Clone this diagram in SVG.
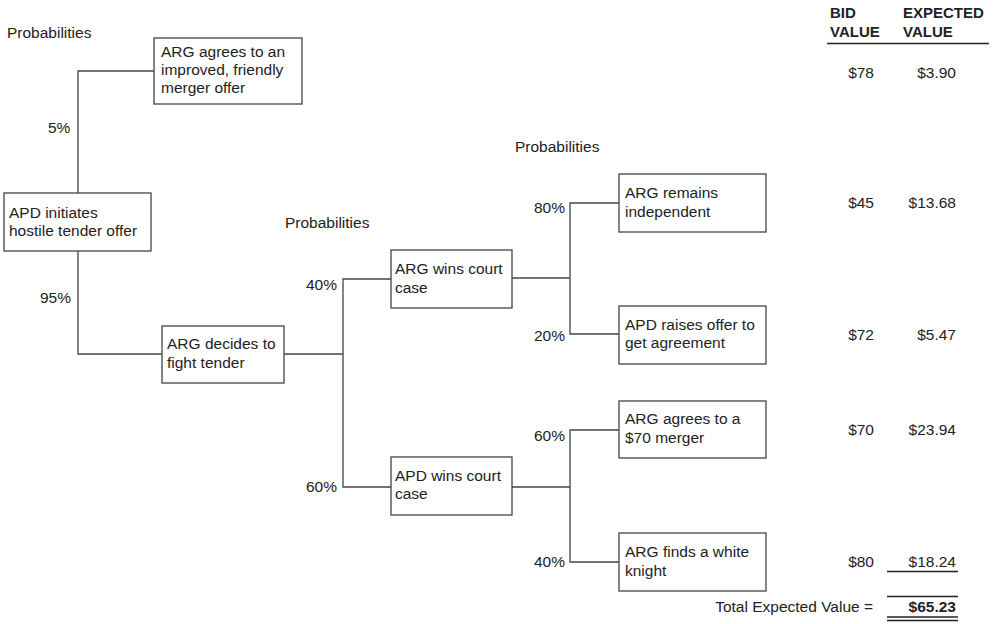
<svg xmlns="http://www.w3.org/2000/svg" width="997" height="624" viewBox="0 0 997 624">
  <style>
    text { font-family: "Liberation Sans", Arial, sans-serif; font-size: 15.5px; fill: #222; }
    .box { fill: #fff; stroke: #444; stroke-width: 1.3; }
    .wire { fill: none; stroke: #444; stroke-width: 1.3; }
    .rule { stroke: #222; stroke-width: 1.3; }
    .hdr { font-weight: bold; font-size: 15px; }
    .num { text-anchor: end; }
    .bold { font-weight: bold; }
  </style>
  <rect width="997" height="624" fill="#fff"/>

  <!-- probability labels above each chance column -->
  <text x="7" y="38">Probabilities</text>
  <text x="285" y="228">Probabilities</text>
  <text x="515" y="152">Probabilities</text>

  <!-- branch lines -->
  <g id="connectors">
    <polyline class="wire" points="154,71 78,71 78,193"/>
    <polyline class="wire" points="78,251 78,354 162,354"/>
    <polyline class="wire" points="284,354 343,354"/>
    <polyline class="wire" points="391,279 343,279 343,487 391,487"/>
    <polyline class="wire" points="512,278 570,278"/>
    <polyline class="wire" points="619,203 570,203 570,334 619,334"/>
    <polyline class="wire" points="512,487 570,487"/>
    <polyline class="wire" points="619,430 570,430 570,562 619,562"/>
  </g>

  <!-- branch probabilities -->
  <g id="probabilities">
    <text x="48" y="133">5%</text>
    <text x="40" y="303">95%</text>
    <text x="306" y="290">40%</text>
    <text x="306" y="492">60%</text>
    <text x="534" y="213">80%</text>
    <text x="534" y="341">20%</text>
    <text x="534" y="441">60%</text>
    <text x="534" y="567">40%</text>
  </g>

  <g id="node-start">
    <rect class="box" x="4" y="193" width="147" height="58"/>
    <text x="9" y="218">APD initiates</text>
    <text x="9" y="236">hostile tender offer</text>
  </g>
  <g id="node-friendly">
    <rect class="box" x="154" y="38" width="148" height="66"/>
    <text x="161" y="57">ARG agrees to an</text>
    <text x="161" y="75">improved, friendly</text>
    <text x="161" y="93">merger offer</text>
  </g>
  <g id="node-fight">
    <rect class="box" x="162" y="326" width="122" height="57"/>
    <text x="167" y="349">ARG decides to</text>
    <text x="167" y="368">fight tender</text>
  </g>
  <g id="node-arg-wins">
    <rect class="box" x="391" y="250" width="121" height="58"/>
    <text x="395" y="274">ARG wins court</text>
    <text x="395" y="293">case</text>
  </g>
  <g id="node-apd-wins">
    <rect class="box" x="391" y="457" width="121" height="58"/>
    <text x="395" y="481">APD wins court</text>
    <text x="395" y="499">case</text>
  </g>
  <g id="node-independent">
    <rect class="box" x="619" y="174" width="147" height="58"/>
    <text x="625" y="198">ARG remains</text>
    <text x="625" y="217">independent</text>
  </g>
  <g id="node-raise">
    <rect class="box" x="619" y="306" width="147" height="58"/>
    <text x="625" y="330">APD raises offer to</text>
    <text x="625" y="348">get agreement</text>
  </g>
  <g id="node-merger70">
    <rect class="box" x="619" y="401" width="147" height="57"/>
    <text x="625" y="424">ARG agrees to a</text>
    <text x="625" y="443">$70 merger</text>
  </g>
  <g id="node-white-knight">
    <rect class="box" x="619" y="533" width="147" height="58"/>
    <text x="625" y="557">ARG finds a white</text>
    <text x="625" y="576">knight</text>
  </g>

  <!-- outcome values table -->
  <g id="values">
    <text class="hdr" x="830" y="18">BID</text>
    <text class="hdr" x="830" y="37">VALUE</text>
    <text class="hdr" x="903" y="18">EXPECTED</text>
    <text class="hdr" x="903" y="37">VALUE</text>
    <line class="rule" x1="827" y1="43.5" x2="989" y2="43.5"/>

    <text class="num" x="874" y="78">$78</text>
    <text class="num" x="956" y="78">$3.90</text>
    <text class="num" x="874" y="208">$45</text>
    <text class="num" x="956" y="208">$13.68</text>
    <text class="num" x="874" y="340">$72</text>
    <text class="num" x="956" y="340">$5.47</text>
    <text class="num" x="874" y="435">$70</text>
    <text class="num" x="956" y="435">$23.94</text>
    <text class="num" x="874" y="567">$80</text>
    <text class="num" x="956" y="567">$18.24</text>
    <line class="rule" x1="887" y1="571.5" x2="958" y2="571.5"/>
    <line class="rule" x1="887" y1="596.5" x2="958" y2="596.5"/>

    <text class="num" x="873" y="612">Total Expected Value =</text>
    <text class="num bold" x="956" y="612">$65.23</text>
    <line class="rule" x1="887" y1="617" x2="958" y2="617"/>
    <line class="rule" x1="887" y1="620.5" x2="958" y2="620.5"/>
  </g>
</svg>
